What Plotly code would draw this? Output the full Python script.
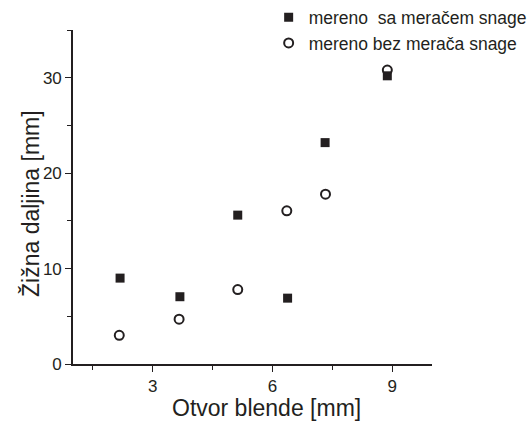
import plotly.graph_objects as go

x_sa = [2.18, 3.68, 5.13, 6.38, 7.32, 8.88]
y_sa = [9.0, 7.05, 15.6, 6.9, 23.2, 30.2]
x_bez = [2.16, 3.66, 5.13, 6.36, 7.33, 8.88]
y_bez = [3.0, 4.7, 7.8, 16.05, 17.8, 30.8]

name_sa = "mereno  sa meračem snage"
name_bez = "mereno bez merača snage"
x_title = "Otvor blende [mm]"
y_title = "Žižna daljina [mm]"

ink = "#231f20"
font = "Liberation Sans, Arial, sans-serif"

fig = go.Figure()
fig.add_trace(go.Scatter(x=x_sa, y=y_sa, mode="markers", name=name_sa, legendgroup="a",
                         marker=dict(symbol="square", size=9, color=ink, line=dict(width=0))))
fig.add_trace(go.Scatter(x=x_bez, y=y_bez, mode="markers", name=name_bez, legendgroup="b",
                         marker=dict(symbol="circle-open", size=9, color=ink, line=dict(width=2, color=ink))))

axis_common = dict(showgrid=False, zeroline=False, showline=True, linecolor=ink, linewidth=1.6,
                   ticks="outside", tickcolor=ink, tickwidth=1.4, ticklen=6,
                   tickfont=dict(size=17, color=ink, family=font))

fig.update_xaxes(range=[1, 10], tick0=0, dtick=3,
                 minor=dict(dtick=1.5, tick0=0, ticks="outside", ticklen=4, tickcolor=ink, tickwidth=1.4),
                 **axis_common)
fig.update_yaxes(range=[0, 35], tick0=0, dtick=10,
                 minor=dict(dtick=5, tick0=0, ticks="outside", ticklen=4, tickcolor=ink, tickwidth=1.4),
                 **axis_common)

# plot area in pixels: x 73..432, y 30..364
fig.add_annotation(text=x_title, xref="paper", yref="paper", x=(266 - 73) / 359, y=(364 - 408) / 334,
                   xanchor="center", yanchor="middle", showarrow=False,
                   font=dict(size=23, color=ink, family=font))
fig.add_annotation(text=y_title, xref="paper", yref="paper", x=(31 - 73) / 359, y=(364 - 204) / 334,
                   xanchor="center", yanchor="middle", textangle=-90, showarrow=False,
                   font=dict(size=23, color=ink, family=font))

fig.update_layout(
    width=529, height=421,
    margin=dict(l=73, r=97, t=30, b=57, autoexpand=False),
    paper_bgcolor="white", plot_bgcolor="white",
    font=dict(family=font, color=ink, size=17),
    legend=dict(x=0.545, y=1.092, xanchor="left", yanchor="top", bgcolor="rgba(0,0,0,0)",
                tracegroupgap=0, traceorder="grouped", itemwidth=30,
                font=dict(size=17.5, color=ink, family=font)),
    showlegend=True,
)

fig.write_html("out.html")
